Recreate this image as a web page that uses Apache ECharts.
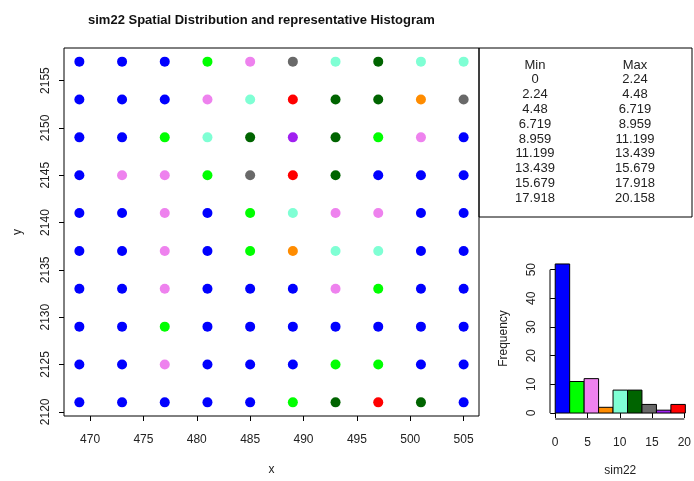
<!DOCTYPE html>
<html>
<head>
<meta charset="utf-8">
<script src="https://cdn.jsdelivr.net/npm/echarts@6/dist/echarts.min.js"></script>
<style>html,body{margin:0;padding:0;background:#fff}#c{width:694px;height:481px}</style>
</head>
<body>
<div id="c"></div>
<script>
// ---- data ----
const titleText = 'sim22 Spatial Distribution and representative Histogram';
const xs = [469, 473, 477, 481, 485, 489, 493, 497, 501, 505];
const ys = [2157, 2153, 2149, 2145, 2141, 2137, 2133, 2129, 2125, 2121];
// class index of each point: rows follow ys, columns follow xs
const classGrid = [
  [0,0,0,1,2,6,4,5,4,4],
  [0,0,0,2,4,8,5,5,3,6],
  [0,0,1,4,5,7,5,1,2,0],
  [0,2,2,1,6,8,5,0,0,0],
  [0,0,2,0,1,4,2,2,0,0],
  [0,0,2,0,1,3,4,4,0,0],
  [0,0,2,0,0,0,2,1,0,0],
  [0,0,1,0,0,0,0,0,0,0],
  [0,0,2,0,0,0,1,1,0,0],
  [0,0,0,0,0,1,5,8,5,0]
];
const classColors = ['#0000FF','#00FF00','#EE82EE','#FF8C00','#7FFFD4','#006400','#696969','#A020F0','#FF0000'];
const binMinLabels = ['0','2.24','4.48','6.719','8.959','11.199','13.439','15.679','17.918'];
const binMaxLabels = ['2.24','4.48','6.719','8.959','11.199','13.439','15.679','17.918','20.158'];
const counts = [52, 11, 12, 2, 8, 8, 3, 1, 3];
const xTicks = [470, 475, 480, 485, 490, 495, 500, 505];
const yTicks = [2120, 2125, 2130, 2135, 2140, 2145, 2150, 2155];
const hxTicks = [0, 5, 10, 15, 20];
const hyTicks = [0, 10, 20, 30, 40, 50];

// ---- helpers ----
function padRange(lo, hi) { const d = (hi - lo) * 0.04; return [lo - d, hi + d]; }
const xr = padRange(Math.min(...xs), Math.max(...xs));
const yr = padRange(Math.min(...ys), Math.max(...ys));
const binMin = binMinLabels.map(Number), binMax = binMaxLabels.map(Number);
const hxr = padRange(binMin[0], binMax[binMax.length - 1]);
const hyr = padRange(0, Math.max(...counts));

const FONT = '"Liberation Sans", Arial, sans-serif';
const TXT = '#222';
const plain = v => String(Math.round(v));

const scatterSeries = classColors.map((col, ci) => {
  const data = [];
  ys.forEach((y, r) => xs.forEach((x, c) => { if (classGrid[r][c] === ci) data.push([x, y]); }));
  return {
    type: 'scatter', xAxisIndex: 0, yAxisIndex: 0, data,
    symbol: 'circle', symbolSize: 10, itemStyle: { color: col, opacity: 1 }, silent: true
  };
});

const histData = counts.map((c, i) => [binMin[i], binMax[i], c, i]);

const tableTexts = [];
const rowY0 = 65, rowDy = 14.8;
const tStyle = t => ({ text: t, font: '13px ' + FONT, fill: TXT, align: 'center', verticalAlign: 'middle' });
tableTexts.push({ type: 'text', x: 535, y: rowY0, style: tStyle('Min') });
tableTexts.push({ type: 'text', x: 635, y: rowY0, style: tStyle('Max') });
binMinLabels.forEach((t, i) => {
  tableTexts.push({ type: 'text', x: 535, y: rowY0 + (i + 1) * rowDy, style: tStyle(t) });
  tableTexts.push({ type: 'text', x: 635, y: rowY0 + (i + 1) * rowDy, style: tStyle(binMaxLabels[i]) });
});

const axLabel = { fontFamily: FONT, fontSize: 12, color: TXT, formatter: plain };
const nameStyle = { fontFamily: FONT, fontSize: 12, color: TXT };

const option = {
  animation: false,
  backgroundColor: '#fff',
  title: { text: titleText, left: 83, top: 9, textStyle: { fontFamily: FONT, fontSize: 13, fontWeight: 'bold', color: '#111' } },
  grid: [
    { left: 64, top: 48, width: 415, height: 370, show: true, borderColor: '#000', borderWidth: 1, backgroundColor: 'transparent' },
    { left: 550, top: 258, width: 141, height: 161, show: false }
  ],
  xAxis: [
    { type: 'value', gridIndex: 0, min: xr[0], max: xr[1], splitLine: { show: false },
      axisLine: { show: false },
      axisTick: { show: true, inside: false, length: 5, customValues: xTicks, lineStyle: { color: '#000' } },
      axisLabel: Object.assign({ customValues: xTicks, margin: 18 }, axLabel),
      name: 'x', nameLocation: 'middle', nameGap: 48, nameTextStyle: nameStyle },
    { type: 'value', gridIndex: 1, min: hxr[0], max: hxr[1], splitLine: { show: false },
      axisLine: { show: false },
      axisTick: { show: true, inside: false, length: 5, customValues: hxTicks, lineStyle: { color: '#000' } },
      axisLabel: Object.assign({ customValues: hxTicks, margin: 18 }, axLabel),
      name: 'sim22', nameLocation: 'middle', nameGap: 46, nameTextStyle: nameStyle }
  ],
  yAxis: [
    { type: 'value', gridIndex: 0, min: yr[0], max: yr[1], splitLine: { show: false },
      axisLine: { show: false },
      axisTick: { show: true, inside: false, length: 5, customValues: yTicks, lineStyle: { color: '#000' } },
      axisLabel: Object.assign({ customValues: yTicks, rotate: 90, margin: 12 }, axLabel),
      name: 'y', nameLocation: 'middle', nameRotate: 90, nameGap: 40, nameTextStyle: nameStyle },
    { type: 'value', gridIndex: 1, min: hyr[0], max: hyr[1], splitLine: { show: false },
      axisLine: { show: false },
      axisTick: { show: true, inside: false, length: 5, customValues: hyTicks, lineStyle: { color: '#000' } },
      axisLabel: Object.assign({ customValues: hyTicks, rotate: 90, margin: 12 }, axLabel),
      name: 'Frequency', nameLocation: 'middle', nameRotate: 90, nameGap: 40, nameTextStyle: nameStyle }
  ],
  series: scatterSeries.concat([
    {
      type: 'custom', xAxisIndex: 1, yAxisIndex: 1, data: histData, silent: true, clip: false,
      renderItem: function (params, api) {
        const p0 = api.coord([api.value(0), api.value(2)]);
        const p1 = api.coord([api.value(1), 0]);
        return { type: 'rect', shape: { x: p0[0], y: p0[1], width: p1[0] - p0[0], height: p1[1] - p0[1] },
          style: { fill: classColors[api.value(3)], stroke: '#000', lineWidth: 1 } };
      }
    },
    { type: 'line', xAxisIndex: 1, yAxisIndex: 1, clip: false, symbol: 'none', silent: true,
      data: [[hxTicks[0], hyr[0]], [hxTicks[hxTicks.length - 1], hyr[0]]], lineStyle: { color: '#000', width: 1 } },
    { type: 'line', xAxisIndex: 1, yAxisIndex: 1, clip: false, symbol: 'none', silent: true,
      data: [[hxr[0], hyTicks[0]], [hxr[0], hyTicks[hyTicks.length - 1]]], lineStyle: { color: '#000', width: 1 } }
  ]),
  graphic: [
    { type: 'rect', shape: { x: 479, y: 48, width: 213, height: 169 }, style: { fill: 'none', stroke: '#000', lineWidth: 1 } }
  ].concat(tableTexts)
};

const chart = echarts.init(document.getElementById('c'), null, { renderer: 'canvas' });
chart.setOption(option);
</script>
</body>
</html>
